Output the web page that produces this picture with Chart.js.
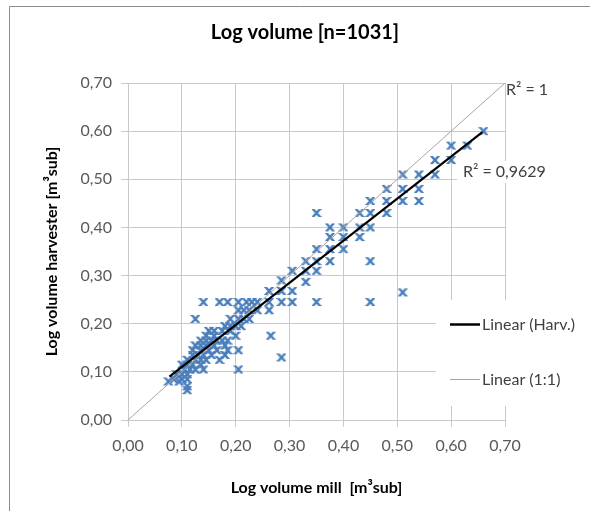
<!DOCTYPE html>
<html>
<head>
<meta charset="utf-8">
<script src="https://cdn.jsdelivr.net/npm/chart.js@4.4.0/dist/chart.umd.min.js"></script>
<style>
  html, body { margin: 0; padding: 0; background: #fff; }
  #wrap { position: relative; width: 590px; height: 511px; }
</style>
</head>
<body>
<div id="wrap"><canvas id="chart-logvol" width="590" height="511"></canvas></div>
<script>
/* Log volume, mill vs harvester */

const CHART_TITLE = "Log volume [n=1031]";
const X_TITLE = "Log volume mill  [m³sub]";
const Y_TITLE = "Log volume harvester [m³sub]";
const AXIS_MIN = 0;
const AXIS_MAX = 0.7;
const AXIS_STEP = 0.1;

// mill volume (x) / harvester volume (y)
const millVol = [
    0.66, 0.60, 0.63, 0.57, 0.60, 0.51, 0.54, 0.57, 0.48, 0.51, 0.54,
    0.45, 0.48, 0.51, 0.54, 0.35, 0.43, 0.45, 0.48, 0.375, 0.40, 0.43, 0.45,
    0.375, 0.40, 0.43, 0.35, 0.375, 0.40, 0.33, 0.35, 0.375, 0.45,
    0.305, 0.33, 0.35, 0.285, 0.33, 0.35, 0.45, 0.51, 0.262, 0.285, 0.305,
    0.285, 0.265,
    0.14, 0.17, 0.185, 0.205, 0.22, 0.23, 0.24, 0.262, 0.285, 0.305,
    0.205, 0.215, 0.225, 0.24, 0.262,
    0.125, 0.19, 0.205, 0.215, 0.225,
    0.18, 0.19, 0.20, 0.21,
    0.15, 0.16, 0.175, 0.19,
    0.145, 0.16, 0.20,
    0.135, 0.145, 0.155, 0.165, 0.175, 0.185,
    0.125, 0.135, 0.145, 0.16, 0.18,
    0.12, 0.135, 0.15, 0.165, 0.185, 0.205,
    0.12, 0.13, 0.14, 0.155, 0.18,
    0.11, 0.125, 0.135, 0.145, 0.17,
    0.10, 0.11, 0.12, 0.135,
    0.105, 0.115, 0.125, 0.14, 0.205,
    0.09, 0.10, 0.11,
    0.085, 0.10, 0.11,
    0.075, 0.095,
    0.11, 0.11
];
const harvVol = [
    0.60, 0.57, 0.57, 0.54, 0.54, 0.51, 0.51, 0.51, 0.48, 0.48, 0.48,
    0.455, 0.455, 0.455, 0.455, 0.43, 0.43, 0.43, 0.43, 0.40, 0.40, 0.40, 0.40,
    0.38, 0.38, 0.38, 0.355, 0.355, 0.355, 0.33, 0.33, 0.33, 0.33,
    0.31, 0.31, 0.31, 0.29, 0.287, 0.245, 0.245, 0.265, 0.268, 0.268, 0.268,
    0.13, 0.175,
    0.245, 0.245, 0.245, 0.245, 0.245, 0.245, 0.245, 0.245, 0.245, 0.245,
    0.228, 0.228, 0.228, 0.228, 0.228,
    0.21, 0.21, 0.21, 0.21, 0.21,
    0.195, 0.195, 0.195, 0.195,
    0.185, 0.185, 0.185, 0.185,
    0.175, 0.175, 0.175,
    0.165, 0.165, 0.165, 0.165, 0.165, 0.165,
    0.155, 0.155, 0.155, 0.155, 0.155,
    0.145, 0.145, 0.145, 0.145, 0.145, 0.145,
    0.135, 0.135, 0.135, 0.135, 0.135,
    0.125, 0.125, 0.125, 0.125, 0.125,
    0.115, 0.115, 0.115, 0.115,
    0.105, 0.105, 0.105, 0.105, 0.105,
    0.095, 0.095, 0.095,
    0.085, 0.085, 0.085,
    0.08, 0.08,
    0.07, 0.062
];

// trend lines (end points as drawn)
const harvLineX = [0.077, 0.658];
const harvLineY = [0.090, 0.598];
const oneLineX = [0.0, 0.7];
const oneLineY = [0.0, 0.7];

const R2_HARV = "R² = 0,9629";
const R2_ONE = "R² = 1";
const LEGEND_LABELS = ["Linear (Harv.)", "Linear (1:1)"];

const FONT = "Lato, 'Open Sans', sans-serif";
const BLUE = "#4a7ebb";
const GRID = "#c9c9c9";
const TXT = "#595959";

function fmt(v) {
    return Number(v).toFixed(2).replace(".", ",");
}

/* Marcador tipo Excel "x" */
function makeMarker() {
    const c = document.createElement("canvas");
    c.width = 10;
    c.height = 10;
    const g = c.getContext("2d");
    g.save();
    g.beginPath();
    g.rect(0, 1, 10, 8);
    g.clip();
    g.strokeStyle = BLUE;
    g.lineWidth = 2.4;
    g.beginPath();
    g.moveTo(0.5, 0); g.lineTo(9.5, 10);
    g.moveTo(9.5, 0); g.lineTo(0.5, 10);
    g.stroke();
    g.restore();
    return c;
}

function toPoints(xs, ys) {
    const out = [];
    for (let i = 0; i < xs.length; i++) out.push({ x: xs[i], y: ys[i] });
    return out;
}

/* Decoracion: marco, titulo, etiquetas R², leyenda */
const decoPlugin = {
    id: "deco",
    afterDraw(chart) {
        const ctx = chart.ctx;
        ctx.save();

        // marco
        ctx.strokeStyle = "#8c8c8c";
        ctx.lineWidth = 1;
        ctx.beginPath();
        ctx.moveTo(9.5, 511);
        ctx.lineTo(9.5, 6.5);
        ctx.lineTo(590, 6.5);
        ctx.stroke();

        // titulo
        ctx.fillStyle = "#000";
        ctx.font = "bold 20px " + FONT;
        ctx.textAlign = "center";
        ctx.textBaseline = "middle";
        ctx.fillText(CHART_TITLE, 305, 33);

        // etiquetas R²
        ctx.font = "16px " + FONT;
        ctx.textAlign = "left";
        const w = ctx.measureText(R2_HARV).width;
        ctx.fillStyle = "#fff";
        ctx.fillRect(457, 161, w + 10, 22);
        ctx.fillStyle = "#404040";
        ctx.fillText(R2_HARV, 463, 172);
        ctx.fillText(R2_ONE, 506, 90);

        // leyenda
        ctx.fillStyle = "#fff";
        ctx.fillRect(436, 300, 154, 106);
        ctx.strokeStyle = "#000";
        ctx.lineWidth = 2.5;
        ctx.beginPath();
        ctx.moveTo(450, 324.5);
        ctx.lineTo(480, 324.5);
        ctx.stroke();
        ctx.strokeStyle = "#a6a6a6";
        ctx.lineWidth = 1;
        ctx.beginPath();
        ctx.moveTo(450, 379.5);
        ctx.lineTo(480, 379.5);
        ctx.stroke();
        ctx.fillStyle = "#404040";
        ctx.fillText(LEGEND_LABELS[0], 482, 325);
        ctx.fillText(LEGEND_LABELS[1], 482, 380);

        ctx.restore();
    }
};

const ctx = document.getElementById("chart-logvol");

new Chart(ctx, {
    type: "scatter",
    data: {
        datasets: [
            {
                label: "Harvester",
                data: toPoints(millVol, harvVol),
                pointStyle: makeMarker(),
                pointRadius: 5,
                order: 3
            },
            {
                type: "line",
                label: LEGEND_LABELS[1],
                data: toPoints(oneLineX, oneLineY),
                borderColor: "#a6a6a6",
                borderWidth: 1,
                pointRadius: 0,
                order: 2
            },
            {
                type: "line",
                label: LEGEND_LABELS[0],
                data: toPoints(harvLineX, harvLineY),
                borderColor: "#000",
                borderWidth: 2.2,
                pointRadius: 0,
                order: 1
            }
        ]
    },
    options: {
        responsive: false,
        animation: false,
        layout: { padding: { left: 20, right: 85, top: 83, bottom: 10 } },
        plugins: {
            legend: { display: false },
            title: { display: false },
            tooltip: { enabled: false }
        },
        scales: {
            x: {
                type: "linear",
                min: AXIS_MIN,
                max: AXIS_MAX,
                afterFit(scale) { scale.height = 81; },
                ticks: {
                    stepSize: AXIS_STEP,
                    color: TXT,
                    font: { family: FONT, size: 16 },
                    padding: 9,
                    maxRotation: 0,
                    callback: v => fmt(v)
                },
                grid: { color: GRID, tickColor: GRID, tickLength: 7 },
                border: { color: GRID },
                title: {
                    display: true,
                    text: X_TITLE,
                    color: "#000",
                    font: { family: FONT, size: 16, weight: "bold" },
                    padding: { top: 0, bottom: 4 }
                }
            },
            y: {
                type: "linear",
                min: AXIS_MIN,
                max: AXIS_MAX,
                afterFit(scale) { scale.width = 108; },
                ticks: {
                    stepSize: AXIS_STEP,
                    color: TXT,
                    font: { family: FONT, size: 16 },
                    padding: 9,
                    callback: v => fmt(v)
                },
                grid: { color: GRID, tickColor: GRID, tickLength: 7 },
                border: { color: GRID },
                title: {
                    display: true,
                    text: Y_TITLE,
                    color: "#000",
                    font: { family: FONT, size: 16, weight: "bold" },
                    padding: { top: 22, bottom: 0 }
                }
            }
        }
    },
    plugins: [decoPlugin]
});
</script>
</body>
</html>
